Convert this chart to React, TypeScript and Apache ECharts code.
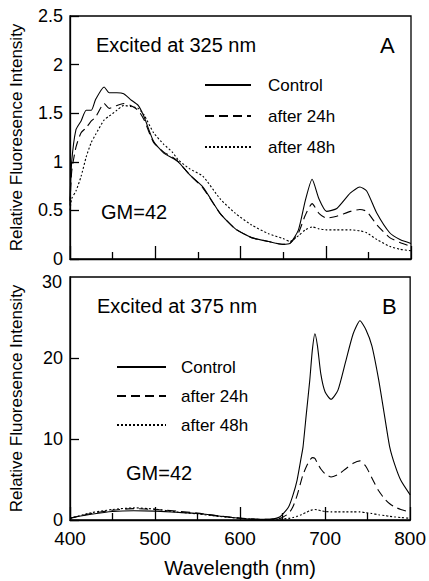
import React, { useEffect, useRef } from "react";
import * as echarts from "echarts";

const WL_A = [400, 402, 407, 413, 419, 425, 430, 440, 446, 455, 463, 471, 480, 487, 498, 510, 520, 527, 540, 556, 576, 594, 613, 633, 650, 658, 668, 676, 684, 692, 701, 713, 729, 740, 748, 760, 775, 787, 800];
const A_CONTROL = [0.6, 1.0, 1.33, 1.42, 1.53, 1.53, 1.64, 1.77, 1.71, 1.71, 1.7, 1.64, 1.58, 1.46, 1.21, 1.09, 1.04, 1.0, 0.87, 0.74, 0.47, 0.31, 0.22, 0.18, 0.15, 0.16, 0.3, 0.6, 0.82, 0.62, 0.49, 0.52, 0.68, 0.74, 0.7, 0.47, 0.27, 0.2, 0.16];
const A_24H = [0.55, 0.9, 1.15, 1.3, 1.35, 1.42, 1.46, 1.6, 1.55, 1.58, 1.6, 1.58, 1.53, 1.43, 1.2, 1.1, 1.05, 1.0, 0.87, 0.73, 0.47, 0.31, 0.22, 0.18, 0.15, 0.16, 0.27, 0.45, 0.57, 0.47, 0.42, 0.44, 0.49, 0.51, 0.49, 0.35, 0.22, 0.17, 0.13];
const A_48H = [0.5, 0.62, 0.7, 0.85, 1.05, 1.2, 1.28, 1.43, 1.47, 1.53, 1.58, 1.57, 1.55, 1.48, 1.3, 1.18, 1.1, 1.02, 0.93, 0.85, 0.62, 0.47, 0.35, 0.26, 0.21, 0.18, 0.24, 0.3, 0.33, 0.31, 0.3, 0.3, 0.3, 0.29, 0.27, 0.2, 0.13, 0.1, 0.085];

const WL_B = [400, 425, 450, 475, 500, 525, 550, 575, 600, 620, 635, 647, 657, 662, 667, 672, 674, 678, 682, 685, 688, 691, 695, 700, 707, 715, 724, 733, 741, 748, 755, 763, 770, 776, 782, 789, 800];
const B_CONTROL = [0.25, 0.7, 1.05, 1.15, 1.1, 0.95, 0.8, 0.5, 0.2, 0.08, 0.1, 0.4, 1.6, 3.0, 4.9, 7.8, 9.0, 13.2, 17.3, 21, 23, 21.5, 18, 15.8, 14.9, 16, 19.5, 23, 24.6, 23.5, 21.5, 17.3, 12.8, 9.0, 6.8, 4.9, 3.1];
const B_24H = [0.2, 0.8, 1.2, 1.4, 1.3, 1.1, 0.85, 0.5, 0.25, 0.1, 0.1, 0.2, 0.8, 1.6, 3.0, 4.9, 5.6, 6.6, 7.4, 7.7, 7.6, 7.0, 6.3, 5.7, 5.3, 5.6, 6.3, 7.0, 7.3, 6.6, 5.2, 3.6, 2.6, 2.0, 1.6, 1.3, 0.95];
const B_48H = [0.2, 0.9, 1.3, 1.5, 1.35, 1.0, 0.75, 0.45, 0.2, 0.08, 0.05, 0.1, 0.2, 0.3, 0.45, 0.65, 0.75, 0.95, 1.15, 1.25, 1.3, 1.25, 1.15, 1.05, 1.0, 1.0, 1.0, 1.0, 1.0, 0.9, 0.8, 0.65, 0.55, 0.45, 0.38, 0.3, 0.22];

const SERIES_NAMES = ["Control", "after 24h", "after 48h"];
const B_TOP_LABEL = "30";
const FONT = "Liberation Sans, Arial, sans-serif";

const zip = (xs: number[], ys: number[]) => xs.map((x, i) => [x, ys[i]]);

export default function App() {
  const ref = useRef<HTMLDivElement>(null);
  useEffect(() => {
    if (!ref.current) return;
    const chart = echarts.init(ref.current, undefined, { renderer: "svg" });
    const dashTypes: any[] = ["solid", [9, 5], [2, 2]];
    const mk = (name: string, idx: number, data: number[][], styleIdx: number) => ({
      name,
      type: "line",
      xAxisIndex: idx,
      yAxisIndex: idx,
      data,
      showSymbol: false,
      symbol: "none",
      smooth: 0.2,
      lineStyle: { color: "#000", width: 1.1, type: dashTypes[styleIdx] },
      itemStyle: { color: "#000" },
    });
    const xAxisBase = {
      type: "value",
      min: 400,
      max: 800,
      interval: 100,
      axisLine: { show: true, lineStyle: { color: "#000", width: 1.3 } },
      axisTick: { show: true, inside: true, length: 13, lineStyle: { color: "#000", width: 1.3 } },
      minorTick: { show: true, splitNumber: 2, length: 7, lineStyle: { color: "#000", width: 1.3 } },
      splitLine: { show: false },
      minorSplitLine: { show: false },
    };
    const yLabel = { color: "#000", fontSize: 18, fontFamily: FONT, margin: 7 };
    const yAxisBase = {
      type: "value",
      axisLine: { show: true, lineStyle: { color: "#000", width: 1.3 } },
      axisTick: { show: true, inside: true, length: 9, lineStyle: { color: "#000", width: 1.3 } },
      splitLine: { show: false },
      name: "Relative Fluoresence Intensity",
      nameLocation: "middle",
      nameGap: 45,
      nameTextStyle: { color: "#000", fontSize: 17, fontFamily: FONT },
    };
    const legendBase = {
      orient: "vertical",
      data: SERIES_NAMES,
      padding: 0,
      itemHeight: 18,
      itemGap: 12,
      selectedMode: false,
      itemStyle: { color: "rgba(0,0,0,0)", borderColor: "rgba(0,0,0,0)", borderWidth: 0, opacity: 0 },
      textStyle: { color: "#000", fontSize: 17, fontFamily: FONT, lineHeight: 18 },
    };
    const txt = (text: string, x: number, y: number, size: number, align = "left") => ({
      type: "text",
      x,
      y,
      style: { text, fill: "#000", fontSize: size, fontFamily: FONT, verticalAlign: "middle", align },
    });
    chart.setOption({
      animation: false,
      backgroundColor: "#fff",
      grid: [
        { left: 69, top: 16, width: 342, height: 243, show: true, borderColor: "#000", borderWidth: 1.3, backgroundColor: "transparent" },
        { left: 69, top: 277, width: 342, height: 243, show: true, borderColor: "#000", borderWidth: 1.3, backgroundColor: "transparent" },
      ],
      xAxis: [
        { ...xAxisBase, gridIndex: 0, axisLabel: { show: false } },
        {
          ...xAxisBase,
          gridIndex: 1,
          axisLabel: { color: "#000", fontSize: 19, fontFamily: FONT, margin: 9 },
          name: "Wavelength (nm)",
          nameLocation: "middle",
          nameGap: 38,
          nameTextStyle: { color: "#000", fontSize: 20, fontFamily: FONT },
        },
      ],
      yAxis: [
        { ...yAxisBase, gridIndex: 0, min: 0, max: 2.5, interval: 0.5, axisLabel: yLabel },
        { ...yAxisBase, gridIndex: 1, min: 0, max: 30, interval: 10, axisLabel: { ...yLabel, showMaxLabel: false } },
      ],
      legend: [
        { ...legendBase, left: 204, top: 76, itemGap: 13, itemWidth: 46, textStyle: { ...legendBase.textStyle, padding: [0, 0, 0, 12] } },
        { ...legendBase, left: 116, top: 358, itemGap: 11, itemWidth: 49, textStyle: { ...legendBase.textStyle, padding: [0, 0, 0, 10] } },
      ],
      graphic: [
        txt("Excited at 325 nm", 96, 45, 20),
        txt("A", 380, 45, 22),
        txt("GM=42", 101, 212, 20),
        txt("Excited at 375 nm", 97, 306, 20),
        txt("B", 382, 306, 22),
        txt("GM=42", 126, 473, 20),
        txt(B_TOP_LABEL, 62, 282, 18, "right"),
      ],
      series: [
        mk("Control", 0, zip(WL_A, A_CONTROL), 0),
        mk("after 24h", 0, zip(WL_A, A_24H), 1),
        mk("after 48h", 0, zip(WL_A, A_48H), 2),
        mk("Control", 1, zip(WL_B, B_CONTROL), 0),
        mk("after 24h", 1, zip(WL_B, B_24H), 1),
        mk("after 48h", 1, zip(WL_B, B_48H), 2),
      ],
    });
    return () => chart.dispose();
  }, []);
  return <div ref={ref} style={{ position: "absolute", left: 0, top: 0, width: 429, height: 581 }} />;
}
